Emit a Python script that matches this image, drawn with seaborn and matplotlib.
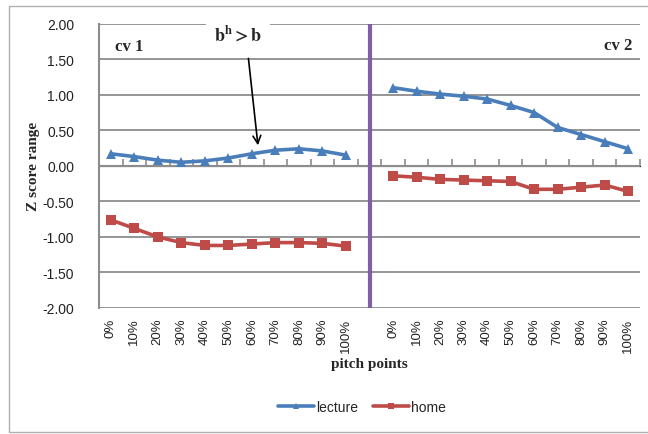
import matplotlib
matplotlib.use("Agg")
import matplotlib.pyplot as plt
import seaborn as sns
import pandas as pd
import numpy as np
from matplotlib.patches import Rectangle
from matplotlib.lines import Line2D

# ---- data ----
pitch_points = ["0%", "10%", "20%", "30%", "40%", "50%", "60%", "70%", "80%", "90%", "100%"]
cv1_lecture = [0.17, 0.13, 0.08, 0.05, 0.07, 0.11, 0.17, 0.22, 0.24, 0.21, 0.15]
cv1_home = [-0.76, -0.88, -1.00, -1.08, -1.12, -1.12, -1.10, -1.08, -1.08, -1.09, -1.13]
cv2_lecture = [1.10, 1.05, 1.01, 0.98, 0.94, 0.85, 0.75, 0.54, 0.44, 0.34, 0.24]
cv2_home = [-0.14, -0.16, -0.19, -0.20, -0.21, -0.22, -0.33, -0.33, -0.30, -0.27, -0.36]
series_names = ["lecture", "home"]
panels = ["cv 1", "cv 2"]

BLUE = "#4A7EBB"
RED = "#BE4B48"
PURPLE = "#7F5FA8"
GRID = "#8C8C8C"

n = len(pitch_points)
rows = []
for p_i, (lec, hom) in enumerate([(cv1_lecture, cv1_home), (cv2_lecture, cv2_home)]):
    for j in range(n):
        slot = j + p_i * (n + 1)
        rows.append({"slot": slot, "value": lec[j], "series": "lecture", "cv": panels[p_i]})
        rows.append({"slot": slot, "value": hom[j], "series": "home", "cv": panels[p_i]})
df = pd.DataFrame(rows)

sns.set_style("white")
plt.rcParams["font.family"] = ["Liberation Sans", "DejaVu Sans"]
plt.rcParams["mathtext.fontset"] = "stix"

fig = plt.figure(figsize=(6.48, 4.35), dpi=100)
ax = fig.add_axes([99 / 648, 1 - 309 / 435, 541 / 648, (309 - 24.7) / 435])

sns.lineplot(data=df, x="slot", y="value", hue="series", style="series",
             units="cv", estimator=None,
             palette={"lecture": BLUE, "home": RED},
             markers={"lecture": "^", "home": "s"}, dashes=False,
             markersize=6.5, markeredgewidth=0, linewidth=2.6, ax=ax, legend=False)

ax.set_xlim(-0.5, 2 * n + 0.5)
ax.set_ylim(-2.0, 2.0)

# grid
yt = np.arange(-2.0, 2.01, 0.5)
ax.set_yticks(yt)
ax.set_yticklabels([f"{v:.2f}" for v in yt])
for v in yt:
    if v == 0:
        continue
    ax.axhline(v, color=GRID, lw=1.3, zorder=0)
ax.axhline(0, color=GRID, lw=1.5, zorder=1)

# x ticks
xpos = list(range(n)) + [n + 1 + j for j in range(n)]
ax.set_xticks(xpos)
ax.set_xticklabels(pitch_points + pitch_points, rotation=90)
ax.tick_params(axis="x", length=0, pad=7, labelsize=9.5, colors="#222222")
ax.tick_params(axis="y", length=4, pad=14, labelsize=10, colors="#222222", color=GRID, direction="out")

# tick marks on the zero line
sec = ax.secondary_xaxis(0.5)
sec.set_xticks([])
sec.set_xticks(np.arange(-0.5, 2 * n + 1, 1.0), minor=True)
sec.tick_params(which="minor", length=5, color=GRID, width=1.2, direction="out")
sec.spines["bottom"].set_visible(False)

for s in ["top", "right", "bottom"]:
    ax.spines[s].set_visible(False)
ax.spines["left"].set_color(GRID)
ax.spines["left"].set_linewidth(1.5)

# separator
ax.axvline(n, color=PURPLE, lw=3, zorder=3)

ax.set_xlabel("pitch points", fontfamily="Liberation Serif", fontweight="bold", fontsize=11, labelpad=4)
ax.set_ylabel("Z score range", fontfamily="Liberation Serif", fontweight="bold", fontsize=11, labelpad=1.5)

ax.text(0.03, 0.92, "cv 1", transform=ax.transAxes, fontfamily="Liberation Serif",
        fontweight="bold", fontsize=12, va="center", ha="left")
ax.text(0.985, 0.925, "cv 2", transform=ax.transAxes, fontfamily="Liberation Serif",
        fontweight="bold", fontsize=12, va="center", ha="right")

ax.text(5.4, 1.85, r"$\mathbf{b^{h} > b}$", fontsize=13, ha="center", va="center",
        bbox=dict(facecolor="white", edgecolor="none", pad=5.5), zorder=4)
ax.annotate("", xy=(6.27, 0.25), xytext=(5.84, 1.55),
            arrowprops=dict(arrowstyle="->", color="black", lw=1.2, mutation_scale=14))

# legend
handles = [Line2D([], [], color=BLUE, marker="^", markersize=5, lw=2.6, markeredgewidth=0),
           Line2D([], [], color=RED, marker="s", markersize=5, lw=2.6, markeredgewidth=0)]
fig.legend(handles, series_names, loc="center", bbox_to_anchor=(362 / 648, 1 - 408 / 435),
           ncol=2, frameon=False, fontsize=10, handlelength=2.6, handletextpad=0.2, columnspacing=1.0)

# chart border
fig.add_artist(Rectangle((9 / 648, 2 / 435), 1.2, 1 - 9 / 435, transform=fig.transFigure,
                         fill=False, edgecolor="#B0B0B0", lw=1.0))

fig.savefig("out.png", dpi=100)
